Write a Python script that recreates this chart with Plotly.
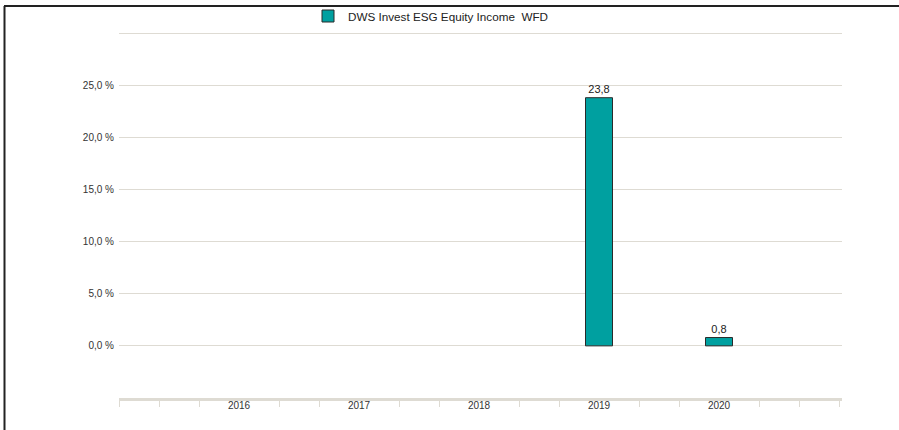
import plotly.graph_objects as go

years = ["2016", "2017", "2018", "2019", "2020"]
returns = [None, None, None, 23.8, 0.8]
series_name = "DWS Invest ESG Equity Income\u00a0\u00a0WFD"
y_ticks = [0, 5, 10, 15, 20, 25, 30]
y_labels = ["0,0 %", "5,0 %", "10,0 %", "15,0 %", "20,0 %", "25,0 %", ""]

xpos = list(range(len(years)))
minor_vals = [i / 3 - 1 for i in range(0, 19) if i % 3 != 0] + [-1, 5]

W, H = 899, 430
L, R, T, B = 119, 57, 32, 32
pw, ph = W - L - R, H - T - B

def px_x(x):
    return (x - L) / pw

def px_y(y):
    return (H - B - y) / ph

fig = go.Figure()
fig.add_trace(go.Bar(
    x=xpos, y=returns, name=series_name, width=0.225,
    marker=dict(color="#00a0a0", line=dict(color="#2a2a2a", width=1)),
    texttemplate="%{y:.1f}", textposition="outside", cliponaxis=False,
    textfont=dict(family="Liberation Sans, Arial", size=11, color="#222222"),
    showlegend=True,
))

fig.update_layout(
    width=W, height=H,
    margin=dict(l=L, r=R, t=T, b=B, pad=0, autoexpand=False),
    paper_bgcolor="white", plot_bgcolor="white",
    separators=",.",
    font=dict(family="Liberation Sans, Arial", size=10, color="#333333"),
    showlegend=True,
    legend=dict(orientation="h", xref="container", yref="container",
                x=308 / W, y=1 - 16 / H, xanchor="left", yanchor="middle",
                font=dict(size=11.7, color="#222222"), bgcolor="rgba(0,0,0,0)"),
    xaxis=dict(
        range=[-1, 5.025], tickmode="array", tickvals=xpos, ticktext=years,
        showgrid=False, zeroline=False, ticks="", automargin=False,
        showline=True, linecolor="#dedbd3", linewidth=3, ticklabelstandoff=-4,
        tickfont=dict(size=10, color="#333333"),
        minor=dict(tickmode="array", tickvals=minor_vals, ticks="outside", ticklen=6,
                   tickcolor="#dedbd3", tickwidth=1, showgrid=False),
        fixedrange=True,
    ),
    yaxis=dict(
        range=[-5, 30.1], tickmode="array", tickvals=y_ticks, ticktext=y_labels,
        showgrid=True, gridcolor="#dedbd3", gridwidth=1, zeroline=False,
        showline=False, ticks="", ticklabelstandoff=4, automargin=False,
        tickfont=dict(size=10, color="#333333"),
        fixedrange=True,
    ),
    shapes=[
        dict(type="line", xref="paper", yref="paper", x0=px_x(4), x1=px_x(899), y0=px_y(6), y1=px_y(6),
             line=dict(color="#222222", width=2)),
        dict(type="line", xref="paper", yref="paper", x0=px_x(4.5), x1=px_x(4.5), y0=px_y(6), y1=px_y(430),
             line=dict(color="#222222", width=2)),
    ],
)

fig.write_html("out.html", config={"displayModeBar": False},
               post_script="document.body.style.margin='0';document.body.style.overflow='hidden';")
